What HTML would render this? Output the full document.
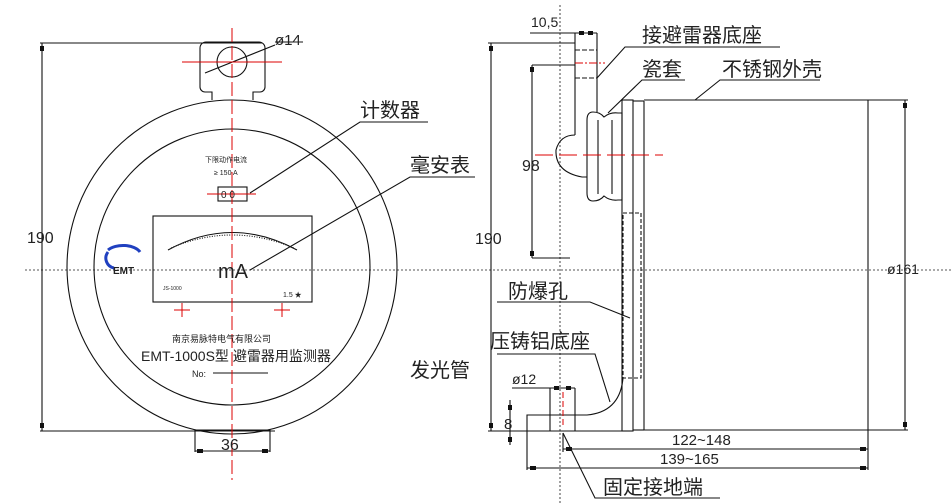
<!DOCTYPE html>
<html><head><meta charset="utf-8"><style>
html,body{margin:0;padding:0;background:#fff;}
svg{display:block;}
text{font-family:"Liberation Sans","Noto Sans CJK SC",sans-serif;fill:#222;}
.cn{font-size:20px;}
</style></head><body>
<svg width="951" height="503" viewBox="0 0 951 503" xmlns="http://www.w3.org/2000/svg">
<g fill="none" stroke="#111" stroke-width="1.1">
<line x1="25" y1="270" x2="951" y2="270" stroke-dasharray="2,2" stroke="#555"/>
<ellipse cx="232" cy="267" rx="165" ry="167"/>
<ellipse cx="232" cy="267" rx="138" ry="138"/>
<path d="M212,100 V92 h-7 a5,5 0 0 1 -5,-5 V48 a6,6 0 0 1 6,-6 h53 a6,6 0 0 1 6,6 V87 a5,5 0 0 1 -5,5 h-7 V100"/>
<circle cx="232" cy="62" r="15"/>
<line x1="205" y1="73" x2="275" y2="45"/>
<line x1="275" y1="42" x2="303" y2="42"/>
<line x1="42" y1="43" x2="42" y2="431"/>
<line x1="40" y1="43" x2="262" y2="43"/>
<line x1="40" y1="431" x2="275" y2="431"/>
<path d="M195,452 V430 H270 V452"/>
<line x1="195" y1="451" x2="270" y2="451"/>
<rect x="218" y="187" width="29" height="14"/>
<rect x="153" y="216" width="159" height="86"/>
<path d="M168,250 Q232,215 297,250"/>
<path d="M171,248 Q232,222 294,248" stroke-dasharray="1,1.5"/>
<line x1="213" y1="373" x2="268" y2="373"/>
<polyline points="428,122 360,122 250,193"/>
<polyline points="475,177 410,177 250,270"/>
</g>
<g fill="#111">
<rect x="40" y="46" width="4" height="5"/><rect x="40" y="423" width="4" height="5"/>
<rect x="197" y="449" width="6" height="4"/><rect x="262" y="449" width="6" height="4"/>
<rect x="491" y="46" width="4" height="5" transform="translate(-2,0)"/><rect x="489" y="423" width="4" height="5"/>
<rect x="530" y="67" width="4" height="5"/><rect x="530" y="251" width="4" height="5"/>
<rect x="903" y="103" width="4" height="5"/><rect x="903" y="422" width="4" height="5"/>
<rect x="579" y="31" width="5" height="4"/><rect x="588" y="31" width="5" height="4"/>
<rect x="554" y="386" width="5" height="4"/><rect x="566" y="386" width="5" height="4"/>
<rect x="508" y="405" width="4" height="5"/><rect x="508" y="437" width="4" height="5"/>
<rect x="566" y="447" width="6" height="4"/><rect x="860" y="447" width="6" height="4"/>
<rect x="530" y="466" width="6" height="4"/><rect x="860" y="466" width="6" height="4"/>
</g>
<g stroke="#d00" stroke-width="1" fill="none">
<line x1="232" y1="28" x2="232" y2="480" stroke-dasharray="14,4"/>
<line x1="182" y1="62" x2="282" y2="62"/>
<line x1="207" y1="194" x2="256" y2="194"/>
<line x1="174" y1="310" x2="190" y2="310"/><line x1="182" y1="303" x2="182" y2="317"/>
<line x1="274" y1="310" x2="290" y2="310"/><line x1="282" y1="303" x2="282" y2="317"/>
</g>
<path d="M108,250 a18,10 0 0 1 32,2" stroke="#2040c0" stroke-width="3" fill="none"/>
<path d="M108,252 a10,10 0 0 0 6,16" stroke="#2040c0" stroke-width="3" fill="none"/>
<text x="113" y="274" font-size="10" font-weight="bold">EMT</text>
<text x="275" y="45" font-size="15">ø14</text>
<text x="27" y="243" font-size="16">190</text>
<text x="221" y="450" font-size="16">36</text>
<text x="205" y="162" font-size="7">下限动作电流</text>
<text x="214" y="175" font-size="7">≥ 150 A</text>
<text x="221" y="198" font-size="10">0 0</text>
<text x="218" y="278" font-size="20">mA</text>
<text x="283" y="297" font-size="7">1.5 ★</text>
<text x="163" y="290" font-size="5">JS-1000</text>
<text x="172" y="342" font-size="9">南京易脉特电气有限公司</text>
<text x="141" y="361" font-size="14">EMT-1000S型 避雷器用监测器</text>
<text x="192" y="377" font-size="9">No:</text>
<text x="360" y="117" class="cn">计数器</text>
<text x="410" y="172" class="cn">毫安表</text>
<text x="410" y="377" class="cn">发光管</text>

<g fill="none" stroke="#111" stroke-width="1.1">
<line x1="560" y1="5" x2="560" y2="503" stroke-dasharray="2,2" stroke="#555"/>
<line x1="491" y1="43" x2="491" y2="431"/>
<line x1="488" y1="43" x2="575" y2="43"/>
<line x1="530" y1="33" x2="597" y2="33"/>
<line x1="575" y1="33" x2="575" y2="135"/>
<line x1="597" y1="33" x2="597" y2="112"/>
<line x1="575" y1="50" x2="597" y2="50" stroke-dasharray="5,2"/>
<line x1="575" y1="78" x2="597" y2="78" stroke-dasharray="5,2"/>
<path d="M575,135 Q560,135 556,150 Q555,172 582,177 H587"/>
<path d="M587,120 Q587,112 593,112 Q600,112 604,117 Q610,112 618,113 L622,113 V200 L618,200 Q610,201 604,196 Q600,201 593,201 Q587,201 587,193 Z"/>
<line x1="598" y1="120" x2="598" y2="194"/>
<line x1="612" y1="120" x2="612" y2="194"/>
<rect x="622" y="100" width="11" height="331"/>
<line x1="644" y1="101" x2="644" y2="430"/>
<line x1="633" y1="101" x2="644" y2="101"/>
<line x1="633" y1="430" x2="644" y2="430"/>
<line x1="644" y1="100" x2="868" y2="100"/>
<line x1="644" y1="430" x2="908" y2="430"/>
<line x1="868" y1="100" x2="868" y2="470"/>
<line x1="868" y1="100" x2="908" y2="100"/>
<line x1="905" y1="100" x2="905" y2="430"/>
<rect x="623" y="213" width="18" height="165" stroke-dasharray="4,2"/>
<line x1="532" y1="65" x2="532" y2="258"/>
<line x1="532" y1="65" x2="575" y2="65"/>
<line x1="532" y1="258" x2="570" y2="258"/>
<path d="M527,470 V415 H587 Q620,412 623,378"/>
<line x1="550" y1="388" x2="550" y2="431"/>
<line x1="575" y1="388" x2="575" y2="431"/>
<line x1="512" y1="388" x2="575" y2="388"/>
<line x1="488" y1="431" x2="633" y2="431"/>
<line x1="510" y1="400" x2="510" y2="445"/>
<line x1="563" y1="449" x2="868" y2="449"/>
<line x1="563" y1="433" x2="563" y2="452"/>
<line x1="527" y1="468" x2="868" y2="468"/>
<polyline points="780,47 625,47 597,78"/>
<polyline points="685,80 642,80 608,113"/>
<polyline points="820,80 720,80 695,100"/>
<polyline points="497,302 590,302 630,318"/>
<polyline points="497,354 595,354 610,402"/>
<polyline points="720,498 595,498 563,433"/>
</g>
<g stroke="#d00" fill="none">
<line x1="575" y1="63" x2="605" y2="63" stroke-dasharray="8,2,2,2"/>
<line x1="535" y1="155" x2="663" y2="155" stroke-dasharray="18,6"/>
<line x1="563" y1="392" x2="563" y2="428" stroke-dasharray="6,3"/>
</g>
<text x="531" y="27" font-size="14">10,5</text>
<text x="475" y="244" font-size="16">190</text>
<text x="522" y="171" font-size="16">98</text>
<text x="887" y="274" font-size="14">ø161</text>
<text x="512" y="384" font-size="14">ø12</text>
<text x="504" y="429" font-size="15">8</text>
<text x="672" y="445" font-size="15">122~148</text>
<text x="660" y="464" font-size="15">139~165</text>
<text x="642" y="42" class="cn">接避雷器底座</text>
<text x="642" y="76" class="cn">瓷套</text>
<text x="722" y="76" class="cn">不锈钢外壳</text>
<text x="508" y="298" class="cn">防爆孔</text>
<text x="490" y="348" class="cn">压铸铝底座</text>
<text x="603" y="494" class="cn">固定接地端</text>
</svg>
</body></html>
